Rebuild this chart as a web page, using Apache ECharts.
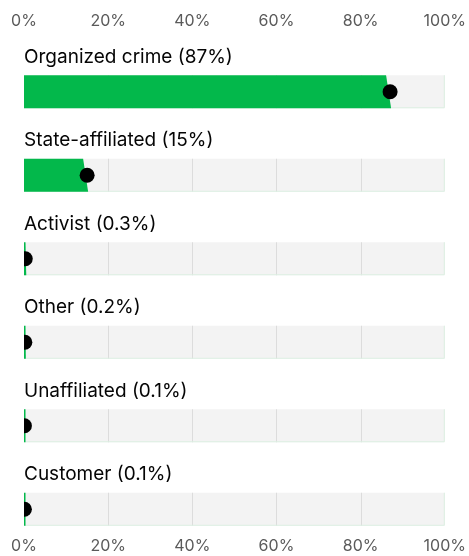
<!DOCTYPE html>
<html>
<head>
<meta charset="utf-8">
<script src="https://cdn.jsdelivr.net/npm/echarts@6/dist/echarts.min.js"></script>
<style>
  html, body { margin: 0; padding: 0; background: #fff; }
  #chart { width: 469px; height: 556px; }
</style>
</head>
<body>
<div id="chart"></div>
<script>
var categories = ['Organized crime', 'State-affiliated', 'Activist', 'Other', 'Unaffiliated', 'Customer'];
var shares = [87, 15, 0.3, 0.2, 0.1, 0.1];
var shareLabels = ['87%', '15%', '0.3%', '0.2%', '0.1%', '0.1%'];
var ticks = [0, 20, 40, 60, 80, 100];

var GREEN = '#03b84b';
var BAND_H = 33;

var chart = echarts.init(document.getElementById('chart'));

// grey track with inner grid lines and the row title above it
function renderBand(params, api) {
    var idx = api.value(1);
    var left = api.coord([0, idx]);
    var right = api.coord([ticks[ticks.length - 1], idx]);
    var top = left[1] - BAND_H / 2;
    var bottom = left[1] + BAND_H / 2;
    var children = [{
        type: 'rect',
        shape: { x: left[0], y: top, width: right[0] - left[0], height: BAND_H },
        style: { fill: '#f3f3f3' }
    }];
    for (var t = 1; t < ticks.length - 1; t++) {
        var x = Math.round(api.coord([ticks[t], idx])[0]) + 0.5;
        children.push({
            type: 'line',
            shape: { x1: x, y1: top, x2: x, y2: bottom },
            style: { stroke: '#dcdcdc', lineWidth: 1 }
        });
    }
    children.push({
        type: 'polyline',
        shape: { points: [[left[0], bottom - 0.5], [right[0] - 0.5, bottom - 0.5], [right[0] - 0.5, top]] },
        style: { stroke: '#dcefe2', lineWidth: 1, fill: null }
    });
    children.push({
        type: 'text',
        style: {
            x: left[0], y: top - 18,
            text: categories[idx] + ' (' + shareLabels[idx] + ')',
            fill: '#050505', font: '19px Inter',
            textAlign: 'left', textVerticalAlign: 'middle'
        }
    });
    return { type: 'group', children: children };
}

// green fill with slanted end, and the black dot at the value
function renderFill(params, api) {
    var idx = api.value(1);
    var start = api.coord([0, idx]);
    var end = api.coord([api.value(0), idx]);
    var top = start[1] - BAND_H / 2;
    var bottom = start[1] + BAND_H / 2;
    var xTop = Math.max(start[0] + 1.5, end[0] - 4);
    var xBottom = Math.max(start[0] + 1.5, end[0] + 1);
    return {
        type: 'group',
        children: [{
            type: 'polygon',
            shape: { points: [[start[0] - 0.5, top], [xTop, top], [xBottom, bottom], [start[0] - 0.5, bottom]] },
            style: { fill: GREEN }
        }, {
            type: 'circle',
            shape: { cx: end[0], cy: start[1], r: 7.5 },
            style: { fill: '#000' }
        }]
    };
}

var axisCommon = {
    type: 'value',
    min: 0,
    max: 100,
    interval: 20,
    axisLine: { show: false },
    axisTick: { show: false },
    splitLine: { show: false },
    axisLabel: {
        formatter: '{value}%',
        color: '#5a5a5a',
        fontFamily: 'Inter',
        fontSize: 16
    }
};

var option = {
    backgroundColor: '#ffffff',
    animation: false,
    grid: {
        left: 24,
        right: 24,
        top: 50,
        bottom: 5
    },
    xAxis: [
        Object.assign({}, axisCommon, {
            position: 'top',
            axisLabel: Object.assign({}, axisCommon.axisLabel, { margin: 21 })
        }),
        Object.assign({}, axisCommon, {
            position: 'bottom',
            offset: -25,
            axisLabel: Object.assign({}, axisCommon.axisLabel, { margin: 12 })
        })
    ],
    yAxis: {
        type: 'category',
        inverse: true,
        data: categories,
        show: false
    },
    series: [{
        type: 'custom',
        xAxisIndex: 0,
        renderItem: renderBand,
        data: categories.map(function (c, i) { return [100, i]; })
    }, {
        type: 'custom',
        xAxisIndex: 0,
        clip: true,
        renderItem: renderFill,
        data: shares.map(function (v, i) { return [v, i]; })
    }]
};

chart.setOption(option);
</script>
</body>
</html>
